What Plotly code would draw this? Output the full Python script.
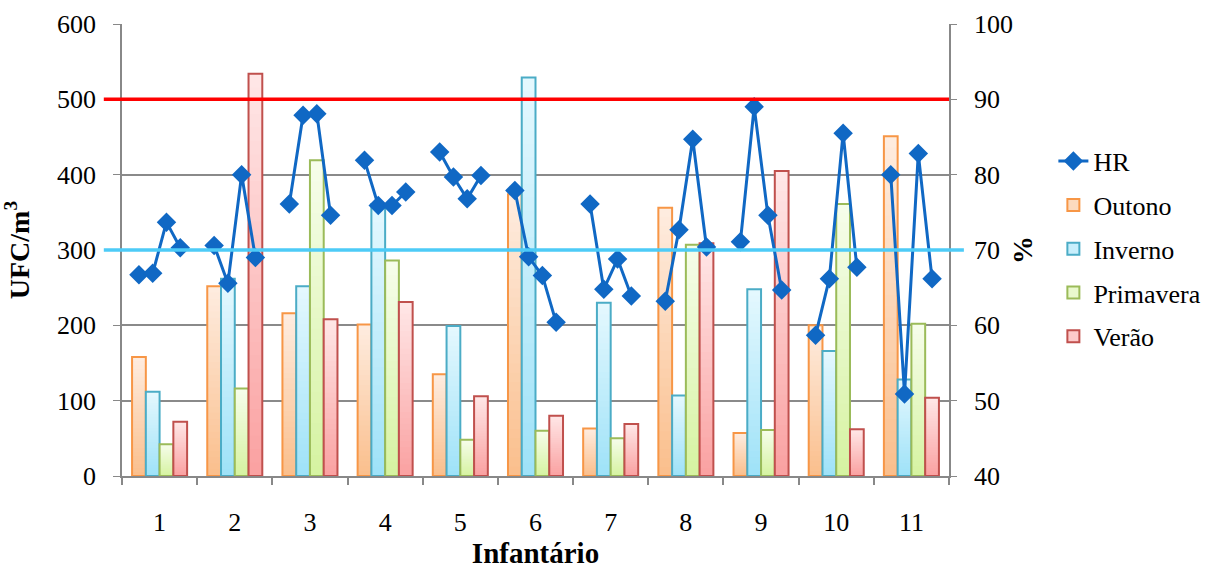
import plotly.graph_objects as go

infantarios = [str(i) for i in range(1, 12)]
estacoes = ["Outono", "Inverno", "Primavera", "Verão"]
outono = [158, 252, 216, 201, 135, 374, 63, 356, 57, 200, 451]
inverno = [112, 262, 252, 361, 199, 529, 230, 107, 248, 166, 128]
primavera = [42, 116, 419, 286, 48, 60, 50, 307, 61, 361, 202]
verao = [72, 534, 208, 231, 106, 80, 69, 309, 405, 62, 104]
hr_outono = [66.7, 70.6, 76.1, 81.9, 83.0, 77.9, 76.1, 63.2, 71.1, 58.7, 80.0]
hr_inverno = [66.9, 65.6, 87.9, 75.9, 79.7, 69.1, 64.8, 72.7, 89.0, 66.2, 50.9]
hr_primavera = [73.7, 80.0, 88.1, 75.9, 76.8, 66.6, 68.8, 84.7, 74.6, 85.5, 82.8]
hr_verao = [70.3, 69.0, 74.6, 77.7, 79.9, 60.4, 63.9, 70.4, 64.7, 67.7, 66.2]
limite_ufc = 500
limite_ref = 300

series = [outono, inverno, primavera, verao]
hr_series = [hr_outono, hr_inverno, hr_primavera, hr_verao]
light = ["#FEECDF", "#E4F8FE", "#F6FDEA", "#FFE6E6"]
dark = ["#FABF8D", "#9FE2F8", "#D6F3A2", "#FAA2A2"]
border = ["#F79646", "#4BACC6", "#9BBB59", "#C0504D"]

FONT = "Liberation Serif, Times New Roman, serif"
xs = list(range(1, len(infantarios) + 1))
w = 0.183
N = 30


def mix(c1, c2, t):
    a = [int(c1[i:i + 2], 16) for i in (1, 3, 5)]
    b = [int(c2[i:i + 2], 16) for i in (1, 3, 5)]
    return "#%02x%02x%02x" % tuple(round(a[j] + (b[j] - a[j]) * t) for j in range(3))


fig = go.Figure()

fig.add_trace(go.Scatter(x=[None], y=[None], mode="lines+markers", name="HR",
                         line=dict(color="#1068C4", width=3),
                         marker=dict(symbol="diamond", size=15, color="#1068C4"),
                         legendgroup="hr", yaxis="y2"))

for k, (name, vals) in enumerate(zip(estacoes, series)):
    off = (k - 2) * w
    for i in range(N, 0, -1):
        frac = i / N
        col = mix(dark[k], light[k], (i - 1) / (N - 1))
        fig.add_trace(go.Bar(x=xs, y=[v * frac for v in vals], width=w, offset=off,
                             marker=dict(color=col, line=dict(width=0)),
                             showlegend=False, hoverinfo="skip"))
    fig.add_trace(go.Bar(x=xs, y=vals, width=w, offset=off, name=name,
                         marker=dict(color="rgba(0,0,0,0)", line=dict(color=border[k], width=2)),
                         showlegend=False))
    fig.add_trace(go.Bar(x=[None], y=[None], name=name, legendgroup=name,
                         marker=dict(color=mix(dark[k], light[k], 0.6),
                                     line=dict(color=border[k], width=2))))

hx, hy = [], []
for g, x0 in enumerate(xs):
    for k in range(4):
        hx.append(x0 + (k - 2) * w + w / 2)
        hy.append(hr_series[k][g])
    hx.append(None)
    hy.append(None)
fig.add_trace(go.Scatter(x=hx, y=hy, mode="lines+markers", name="HR", yaxis="y2",
                         line=dict(color="#1068C4", width=3),
                         marker=dict(symbol="diamond", size=15, color="#1068C4"),
                         showlegend=False, connectgaps=False))

fig.add_shape(type="line", xref="paper", yref="y", x0=-0.022, x1=1.0,
              y0=limite_ufc, y1=limite_ufc, line=dict(color="#FF0000", width=3.5))
fig.add_shape(type="line", xref="paper", yref="y", x0=-0.022, x1=1.018,
              y0=limite_ref, y1=limite_ref, line=dict(color="#4DCBF7", width=3.5))

fig.update_layout(
    width=1208, height=569,
    margin=dict(l=122, r=259, t=24, b=93, autoexpand=False),
    paper_bgcolor="white", plot_bgcolor="white",
    barmode="overlay",
    font=dict(family=FONT, size=26, color="black"),
    showlegend=True,
    legend=dict(xref="container", yref="container", x=0.872, y=0.758,
                xanchor="left", yanchor="top",
                font=dict(family=FONT, size=26), tracegroupgap=7,
                itemwidth=30, bgcolor="rgba(0,0,0,0)"),
    xaxis=dict(range=[0.5, 11.5], tickmode="array", tickvals=xs, ticktext=infantarios,
               ticks="", showgrid=False, showline=True, linecolor="#888888", linewidth=1.5,
               ticklabelstandoff=22, tickfont=dict(family=FONT, size=26),
               minor=dict(tickmode="linear", tick0=0.5, dtick=1, ticks="outside",
                          ticklen=7, tickcolor="#888888", tickwidth=1.5, showgrid=False),
               title=dict(text="<b>Infantário</b>", standoff=17,
                          font=dict(family=FONT, size=29)),
               zeroline=False),
    yaxis=dict(range=[0, 600], dtick=100, showgrid=True, gridcolor="#8A8A8A", gridwidth=1.5,
               showline=True, linecolor="#888888", linewidth=1.5, ticks="outside",
               ticklen=7, tickcolor="#888888", zeroline=False, ticklabelstandoff=12,
               tickfont=dict(family=FONT, size=26),
               title=dict(text="<b>UFC/m<sup>3</sup></b>", standoff=20,
                          font=dict(family=FONT, size=28))),
    yaxis2=dict(range=[40, 100], dtick=10, overlaying="y", side="right", showgrid=False,
                showline=True, linecolor="#888888", linewidth=1.5, ticks="outside",
                ticklen=6, tickcolor="#888888", zeroline=False, ticklabelstandoff=12,
                tickfont=dict(family=FONT, size=26),
                title=dict(text="<b>%</b>", standoff=0, font=dict(family=FONT, size=28))),
)

fig.write_html("out.html")
